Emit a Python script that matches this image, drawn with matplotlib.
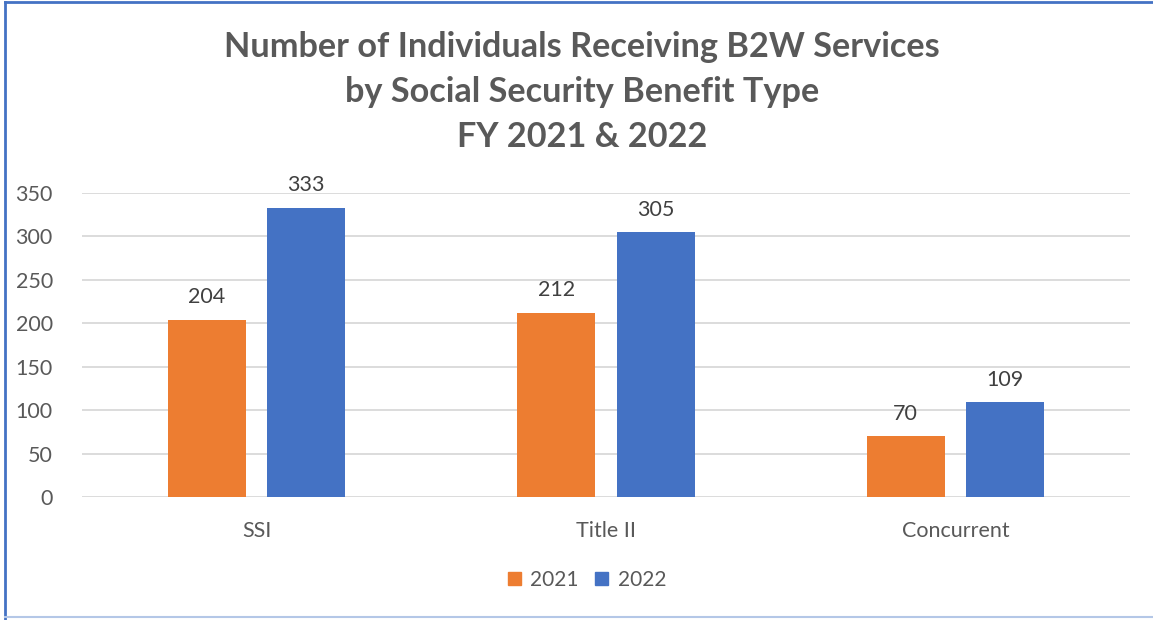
import matplotlib
matplotlib.use("Agg")
import matplotlib.pyplot as plt
import numpy as np
from matplotlib.patches import Rectangle
from matplotlib.lines import Line2D

categories = ["SSI", "Title II", "Concurrent"]
series_labels = ["2021", "2022"]
values_2021 = [204, 212, 70]
values_2022 = [333, 305, 109]
y_ticks = [0, 50, 100, 150, 200, 250, 300, 350]
title_lines = ["Number of Individuals Receiving B2W Services",
               "by Social Security Benefit Type",
               "FY 2021 & 2022"]

plt.rcParams['font.family'] = ['Lato', 'DejaVu Sans']

W, H = 1153, 620
fig = plt.figure(figsize=(W / 100, H / 100), dpi=100)
ax = fig.add_axes([82 / W, 1 - 497 / H, (1130 - 82) / W, (497 - 193) / H])

x = np.arange(len(categories))
width = 0.2235
offset = 0.142
orange = "#ED7D31"
blue = "#4472C4"
text_grey = "#595959"

b1 = ax.bar(x - offset, values_2021, width, color=orange, zorder=3)
b2 = ax.bar(x + offset, values_2022, width, color=blue, zorder=3)

for bars, vals in ((b1, values_2021), (b2, values_2022)):
    for rect, v in zip(bars, vals):
        ax.annotate(str(v), (rect.get_x() + rect.get_width() / 2, v),
                    xytext=(0, 9), textcoords="offset points",
                    ha="center", va="bottom", fontsize=15.5, color="#404040")

ax.set_xlim(-0.5, 2.5)
ax.set_ylim(0, 350)
ax.set_yticks(y_ticks)
ax.set_xticks(x)
ax.set_xticklabels(categories)
ax.tick_params(axis="both", length=0, labelsize=15.5, colors=text_grey)
ax.tick_params(axis="y", pad=21)
ax.tick_params(axis="x", pad=17)
ax.grid(axis="y", color="#D9D9D9", linewidth=1.3, zorder=0)
for s in ax.spines.values():
    s.set_visible(False)

for i, (line, yp) in enumerate(zip(title_lines, [47, 92, 137])):
    fig.text(582 / W, 1 - yp / H, line, ha="center", va="center",
             fontsize=24.7, fontweight="bold", color=text_grey)

handles = [Rectangle((0, 0), 1, 1, color=orange), Rectangle((0, 0), 1, 1, color=blue)]
fig.legend(handles, series_labels, loc="center", bbox_to_anchor=(587 / W, 1 - 580 / H),
           ncol=2, frameon=False, fontsize=15, labelcolor=text_grey,
           handlelength=0.62, handleheight=0.62, handletextpad=0.45, columnspacing=0.8)

# chart border
fig.add_artist(Line2D([5 / W, 5 / W], [0, 1 - 2 / H], color="#4472C4", linewidth=2))
fig.add_artist(Line2D([5 / W, 1], [1 - 2 / H, 1 - 2 / H], color="#4472C4", linewidth=2))
fig.add_artist(Line2D([5 / W, 1], [1 - 617 / H, 1 - 617 / H], color="#B4C7E7", linewidth=1.5))

fig.savefig("out.png", dpi=100, facecolor="white")
